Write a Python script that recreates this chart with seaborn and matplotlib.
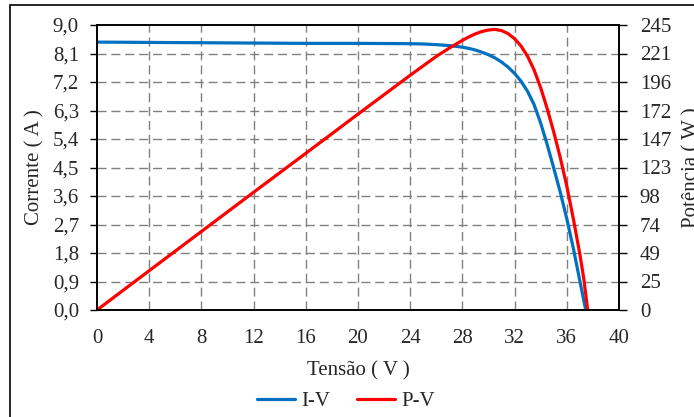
import seaborn as sns
import numpy as np
import pandas as pd
import matplotlib
matplotlib.use("Agg")
import matplotlib.pyplot as plt
from matplotlib.lines import Line2D
from matplotlib.patches import Rectangle

# curva I-V (tensao em V, corrente em A)
v_iv = [0, 4, 8, 12, 16, 20, 24, 25, 26, 27, 28, 28.5, 29, 29.5, 30, 30.5, 31, 31.5,
        32, 32.5, 33, 33.5, 34, 34.5, 35, 35.5, 36, 36.5, 37, 37.45]
i_iv = [8.46, 8.45, 8.44, 8.43, 8.42, 8.42, 8.41, 8.40, 8.38, 8.35, 8.30, 8.26, 8.21, 8.14, 8.06, 7.96, 7.83, 7.67,
        7.47, 7.22, 6.90, 6.48, 5.90, 5.22, 4.48, 3.72, 2.88, 1.95, 0.92, 0.0]

# curva P-V (tensao em V, potencia em W)
v_pv = [0, 4, 8, 12, 16, 20, 24, 26, 27, 28, 28.5, 29, 29.5, 30, 30.5, 31, 31.5,
        32, 32.5, 33, 33.5, 34, 34.5, 35, 35.5, 36, 36.5, 37, 37.3, 37.6]
p_pv = [0, 33.8, 67.5, 101.2, 134.7, 168.4, 201.8, 218.0, 225.2, 231.8, 234.8, 237.4, 239.4, 240.7, 241.2, 240.2, 237.6,
        233.2, 226.8, 218.0, 206.2, 191.0, 173.0, 153.0, 131.0, 106.5, 78.5, 48.0, 27.0, 0.0]

v_ticks = [0, 4, 8, 12, 16, 20, 24, 28, 32, 36, 40]
i_ticks = [0, 0.9, 1.8, 2.7, 3.6, 4.5, 5.4, 6.3, 7.2, 8.1, 9.0]
i_labels = ["0,0", "0,9", "1,8", "2,7", "3,6", "4,5", "5,4", "6,3", "7,2", "8,1", "9,0"]
p_ticks = [0, 24.5, 49, 73.5, 98, 122.5, 147, 171.5, 196, 220.5, 245]
p_labels = ["0", "25", "49", "74", "98", "123", "147", "172", "196", "221", "245"]

df_iv = pd.DataFrame({"Tensao": v_iv, "Corrente": i_iv})
df_pv = pd.DataFrame({"Tensao": v_pv, "Potencia": p_pv})

sns.set_style("white")
plt.rcParams["font.family"] = ["Liberation Serif", "DejaVu Serif"]
plt.rcParams["font.size"] = 15

blue = "#0070C0"
red = "#FF0000"
grid_kw = dict(color="#808080", linewidth=1.0, linestyle=(0, (6.5, 3.5)))

fig = plt.figure(figsize=(6.94, 4.17), dpi=100)
fig.patches.append(Rectangle((10 / 694, -0.1), 1.2, 1.1 - 5 / 417, transform=fig.transFigure,
                             fill=False, edgecolor="black", linewidth=1.2, zorder=0))

ax = fig.add_axes([97 / 694, 1 - 310 / 417, (619 - 97) / 694, (310 - 25) / 417])
ax2 = ax.twinx()

for x in v_ticks[1:-1]:
    ax.axvline(x, zorder=0, **grid_kw)
for y in i_ticks[1:-1]:
    ax.axhline(y, zorder=0, **grid_kw)

sns.lineplot(data=df_iv, x="Tensao", y="Corrente", ax=ax, color=blue, linewidth=2.3,
             legend=False, solid_joinstyle="round")
sns.lineplot(data=df_pv, x="Tensao", y="Potencia", ax=ax2, color=red, linewidth=2.3,
             legend=False, solid_joinstyle="round")

ax.set_xlim(0, 40)
ax.set_ylim(0, 9.0)
ax2.set_ylim(0, 245)
ax.set_xticks(v_ticks)
ax.set_yticks(i_ticks)
ax.set_yticklabels(i_labels)
ax2.set_yticks(p_ticks)
ax2.set_yticklabels(p_labels)

ax.tick_params(axis="x", length=0, pad=14)
ax.tick_params(axis="y", direction="out", length=5, width=1, color="black", pad=8, left=True)
ax2.tick_params(axis="y", direction="out", length=6, width=1, color="black", pad=9, right=True)

for a in (ax, ax2):
    for s in a.spines.values():
        s.set_visible(True)
        s.set_color("black")
        s.set_linewidth(1.2)

ax.set_xlabel("Tensão ( V )", labelpad=9)
ax.set_ylabel("Corrente ( A )", labelpad=6)
# o rotulo da direita fica parcialmente cortado na borda, como na referencia
ax2.set_ylabel("Potência ( W )", labelpad=8)

handles = [Line2D([], [], color=blue, linewidth=2.3), Line2D([], [], color=red, linewidth=2.3)]
fig.legend(handles, ["I-V", "P-V"], loc="center", bbox_to_anchor=(346 / 694, 1 - 401 / 417),
           ncol=2, frameon=False, handlelength=1.8, handletextpad=0.3, columnspacing=1.3)

fig.savefig("out.png", dpi=100)
